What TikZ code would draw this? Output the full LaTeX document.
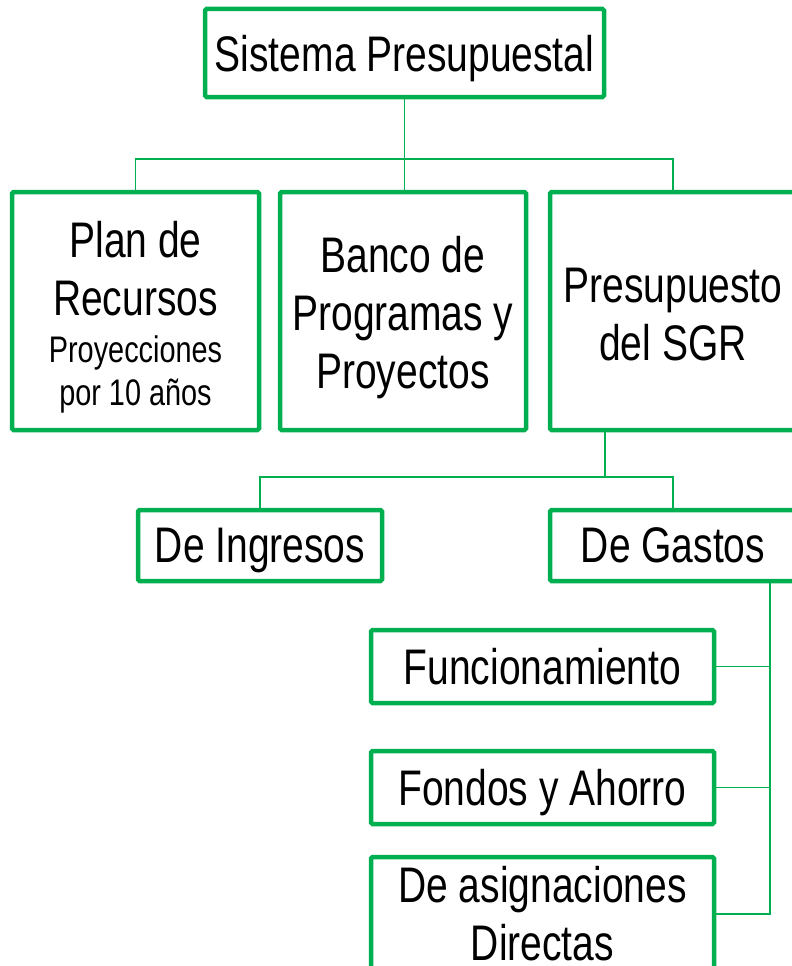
\documentclass[tikz,border=0pt]{standalone}
\usepackage{fontspec}
\setmainfont[FakeStretch=0.78]{Liberation Sans}
\definecolor{og}{HTML}{00B050}
\newcommand{\bigf}{\fontsize{50}{58}\selectfont}
\newcommand{\smallf}{\fontsize{37}{43}\selectfont}
\begin{document}
\begin{tikzpicture}[x=1pt,y=-1pt,
  box/.style={draw=og, line width=4.5pt, rounded corners=1.5pt, inner sep=0pt, align=center, font=\bigf},
  flat/.style={text depth=0pt},
  link/.style={draw=og, line width=1.8pt}]
\clip (0,0) rectangle (792,966);
\node[box, flat, minimum width=399pt, minimum height=88pt] (top) at (404.5,53) {Sistema Presupuestal};
\node[box, minimum width=247pt, minimum height=238pt] (plan) at (135.5,311) {\raisebox{-6pt}[\height][\depth]{\parbox{240pt}{\centering Plan de\\Recursos\\[-11pt]{\smallf Proyecciones}\\[-15pt]{\smallf por 10 años}}}};
\node[box, minimum width=246pt, minimum height=238pt] (banco) at (403,311) {\raisebox{-7pt}[\height][\depth]{\parbox{240pt}{\centering Banco de\\Programas y\\Proyectos}}};
\node[box, minimum width=246pt, minimum height=238pt] (pres) at (673,311) {\raisebox{-4pt}[\height][\depth]{\parbox{240pt}{\centering Presupuesto\\del SGR}}};
\node[box, flat, minimum width=244pt, minimum height=71pt] (ing) at (260,545.5) {De Ingresos};
\node[box, flat, minimum width=246pt, minimum height=71pt] (gas) at (673,545.5) {De Gastos};
\node[box, flat, minimum width=343pt, minimum height=73pt] (func) at (542.5,666.5) {Funcionamiento};
\node[box, flat, minimum width=343pt, minimum height=73pt] (fond) at (542.5,787.5) {Fondos y Ahorro};
\node[box, minimum width=343pt, minimum height=114pt] (asig) at (542.5,914) {\raisebox{0pt}[\height][\depth]{\parbox{330pt}{\centering De asignaciones\\Directas}}};
\coordinate (j1) at (404,159);
\coordinate (j2) at (605,477);
\coordinate (j3) at (770,0);
\draw[link] (top.south) -- (top.south |- banco.north);
\draw[link] (plan.north) |- (j1) -| (pres.north);
\draw[link] (pres.south -| j2) -- (j2);
\draw[link] (ing.north) |- (j2) -| (gas.north);
\draw[link] (gas.south -| j3) |- (asig.east);
\draw[link] (func.east) -- (func.east -| j3);
\draw[link] (fond.east) -- (fond.east -| j3);
\end{tikzpicture}
\end{document}
